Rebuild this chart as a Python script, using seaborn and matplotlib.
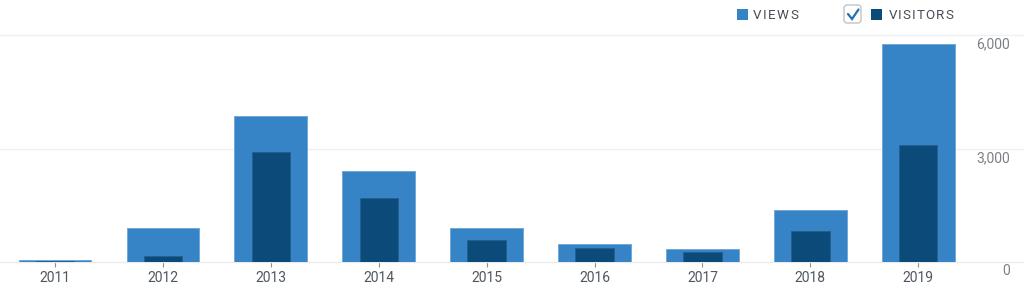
import matplotlib
matplotlib.use("Agg")
import matplotlib.pyplot as plt
import matplotlib.transforms as mtrans
from matplotlib.patches import FancyBboxPatch, Rectangle
from matplotlib.lines import Line2D
import numpy as np
import pandas as pd
import seaborn as sns

# ---- data ----
years = ["2011", "2012", "2013", "2014", "2015", "2016", "2017", "2018", "2019"]
views = [70, 914, 3864, 2411, 898, 483, 362, 1381, 5773]
visitors = [30, 158, 2921, 1690, 600, 388, 264, 837, 3100]
y_ticks = [0, 3000, 6000]
y_tick_labels = ["0", "3,000", "6,000"]
legend_labels = ["VIEWS", "VISITORS"]

VIEWS_C = "#3683c6"
VISITORS_C = "#0c4a7a"
GRID_C = "#f0f0f1"
W, H = 1024, 290

sns.set_theme(style="white")
plt.rcParams["font.family"] = ["Roboto", "DejaVu Sans"]

fig = plt.figure(figsize=(W / 100, H / 100), dpi=100)
fig.patch.set_facecolor("white")
base_y, top_y = 262.3, 35.3
ax = fig.add_axes([0, 1 - base_y / H, 1, (base_y - top_y) / H])
ax.set_facecolor("none")

df = pd.DataFrame({"year": years, "views": views, "visitors": visitors})
sns.barplot(data=df, x="year", y="views", color=VIEWS_C, saturation=1,
            width=0.674, errorbar=None, edgecolor="#70a9dc", linewidth=0.7,
            ax=ax, zorder=2)
sns.barplot(data=df, x="year", y="visitors", color=VISITORS_C, saturation=1,
            width=0.355, errorbar=None, edgecolor="#22608f", linewidth=0.6,
            ax=ax, zorder=3)

ax.set_xlim(-0.51, 8.98)
ax.set_ylim(0, 6000)
for s in ax.spines.values():
    s.set_visible(False)
for v in y_ticks:
    ax.axhline(v, color="#ebebec" if v == 0 else GRID_C, lw=1, zorder=1, clip_on=False)

ax.set_xlabel("")
ax.set_ylabel("")
ax.set_yticks([])
ax.tick_params(axis="x", bottom=True, length=3.6, width=0.8, color="#8c8f94",
               pad=3, labelsize=10, labelcolor="#50575e", direction="out")

for v, lab in zip(y_ticks, y_tick_labels):
    ax.annotate(lab, xy=(1010 / W, v), xycoords=("axes fraction", "data"),
                xytext=(0, -9), textcoords="offset pixels", ha="right",
                va="center", fontsize=10, color="#7c8086", annotation_clip=False)

# ---- legend ----
ident = mtrans.IdentityTransform()
fig.canvas.draw()
renderer = fig.canvas.get_renderer()


def spaced_text(text, x0, baseline_px, target_w, **kw):
    objs = []
    widths = []
    for ch in text:
        t = fig.text(0, 0, ch, transform=ident, ha="left", va="baseline", **kw)
        widths.append(t.get_window_extent(renderer).width)
        objs.append(t)
    gap = (target_w - sum(widths)) / max(len(text) - 1, 1)
    x = x0
    for t, w in zip(objs, widths):
        t.set_position((x, H - baseline_px))
        x += w + gap


fig.patches.append(Rectangle((737, H - 19.5), 10.5, 10.5, transform=ident,
                             facecolor=VIEWS_C, edgecolor="none"))
spaced_text(legend_labels[0], 753, 19.3, 45, fontsize=9.6, color="#474e55")

fig.patches.append(FancyBboxPatch((844, H - 23), 17, 18, transform=ident,
                                  boxstyle="round,pad=0,rounding_size=3",
                                  facecolor="white", edgecolor="#c3c4c7", lw=1))
fig.lines.append(Line2D([848, 852, 858.5], [H - 14, H - 19, H - 9.5],
                        transform=ident, color="#2271b1", lw=1.6,
                        solid_capstyle="round", solid_joinstyle="miter"))
fig.patches.append(Rectangle((871, H - 19.5), 10.5, 10.5, transform=ident,
                             facecolor=VISITORS_C, edgecolor="none"))
spaced_text(legend_labels[1], 888.5, 19.3, 64.5, fontsize=9.6, color="#474e55")

fig.savefig("out.png", dpi=100, facecolor="white")
